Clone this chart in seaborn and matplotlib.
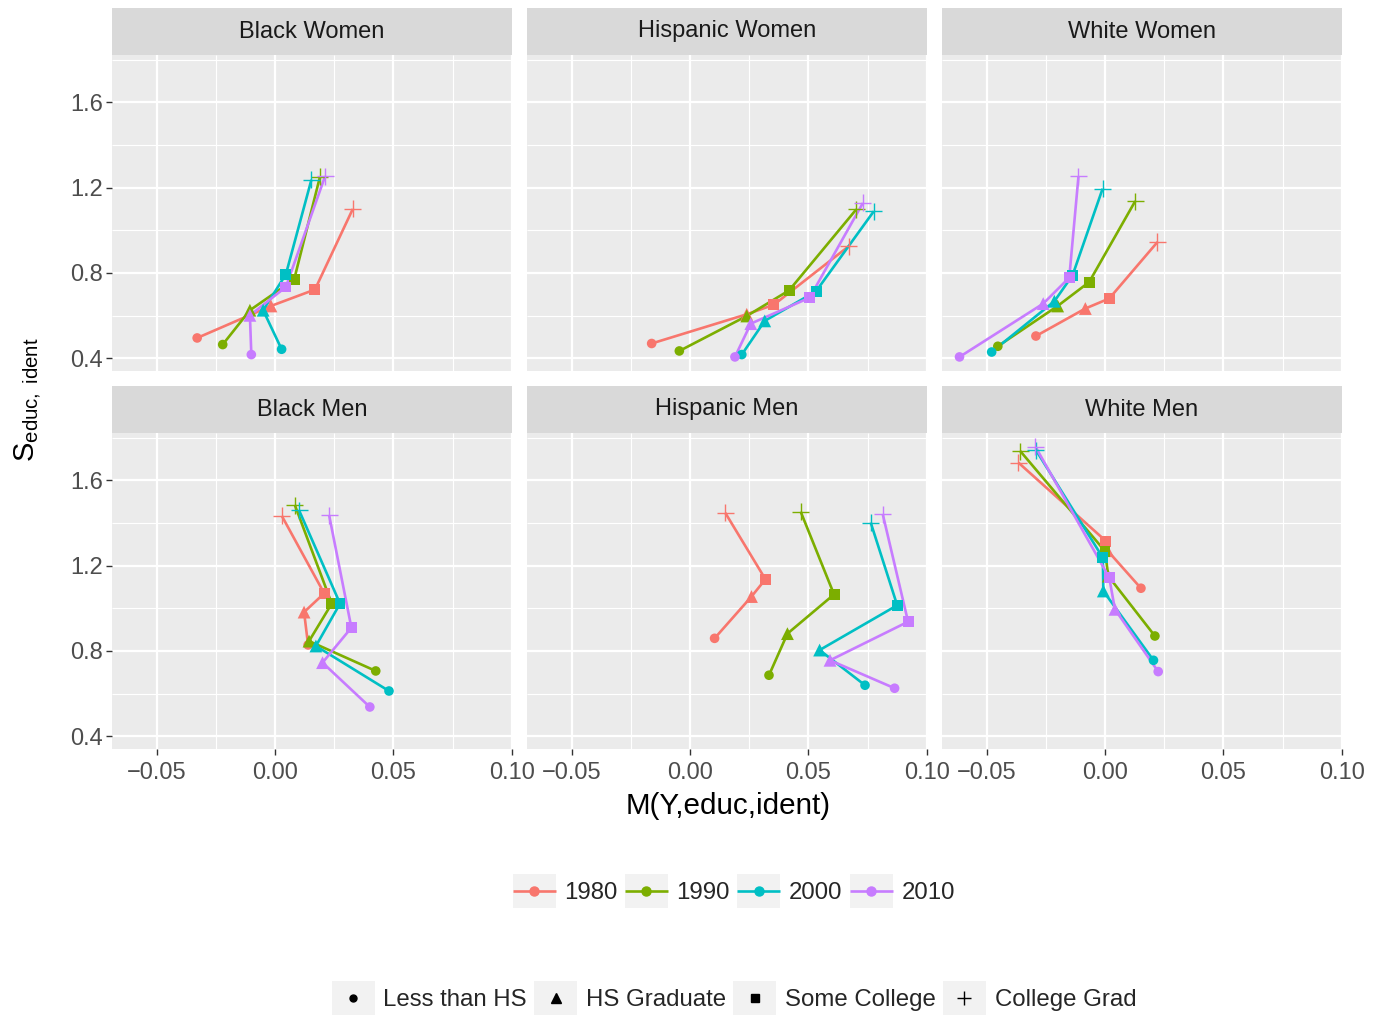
import matplotlib
matplotlib.use("Agg")
import matplotlib.pyplot as plt
import numpy as np
import pandas as pd
import seaborn as sns
from matplotlib.patches import Rectangle, Patch
from matplotlib.lines import Line2D
from matplotlib.legend_handler import HandlerTuple, HandlerLine2D
from matplotlib.ticker import FixedLocator, FixedFormatter

# ---------------- data ----------------
years = ["1980", "1990", "2000", "2010"]
educ = ["Less than HS", "HS Graduate", "Some College", "College Grad"]
panels = ["Black Women", "Hispanic Women", "White Women",
          "Black Men", "Hispanic Men", "White Men"]
year_colors = ["#F8766D", "#7CAE00", "#00BFC4", "#C77CFF"]

# rows = years (1980, 1990, 2000, 2010); columns = educ levels
black_women_x = [[-0.0330, -0.0018, 0.0168, 0.0328],
                 [-0.0222, -0.0107, 0.0080, 0.0189],
                 [0.0027, -0.0051, 0.0045, 0.0153],
                 [-0.0101, -0.0107, 0.0045, 0.0211]]
black_women_y = [[0.495, 0.645, 0.722, 1.100],
                 [0.464, 0.625, 0.769, 1.250],
                 [0.442, 0.625, 0.793, 1.237],
                 [0.417, 0.601, 0.734, 1.254]]

hispanic_women_x = [[-0.0163, 0.0239, 0.0354, 0.0671],
                    [-0.0046, 0.0239, 0.0418, 0.0702],
                    [0.0218, 0.0315, 0.0532, 0.0776],
                    [0.0189, 0.0256, 0.0505, 0.0730]]
hispanic_women_y = [[0.469, 0.606, 0.651, 0.926],
                    [0.434, 0.598, 0.718, 1.098],
                    [0.417, 0.575, 0.714, 1.089],
                    [0.406, 0.562, 0.684, 1.128]]

white_women_x = [[-0.0293, -0.0084, 0.0017, 0.0221],
                 [-0.0454, -0.0201, -0.0068, 0.0127],
                 [-0.0480, -0.0215, -0.0138, -0.0011],
                 [-0.0616, -0.0262, -0.0152, -0.0113]]
white_women_y = [[0.504, 0.633, 0.680, 0.945],
                 [0.456, 0.645, 0.757, 1.137],
                 [0.429, 0.667, 0.789, 1.195],
                 [0.406, 0.656, 0.778, 1.253]]

black_men_x = [[0.0139, 0.0122, 0.0207, 0.0028],
               [0.0425, 0.0143, 0.0239, 0.0083],
               [0.0481, 0.0172, 0.0274, 0.0101],
               [0.0400, 0.0200, 0.0322, 0.0228]]
black_men_y = [[0.828, 0.982, 1.070, 1.433],
               [0.706, 0.846, 1.022, 1.484],
               [0.612, 0.823, 1.022, 1.459],
               [0.537, 0.745, 0.909, 1.436]]

hispanic_men_x = [[0.0103, 0.0259, 0.0318, 0.0148],
                  [0.0333, 0.0411, 0.0608, 0.0467],
                  [0.0739, 0.0547, 0.0875, 0.0763],
                  [0.0864, 0.0591, 0.0921, 0.0814]]
hispanic_men_y = [[0.859, 1.055, 1.136, 1.448],
                  [0.686, 0.881, 1.065, 1.453],
                  [0.639, 0.804, 1.014, 1.402],
                  [0.625, 0.756, 0.937, 1.441]]

white_men_x = [[0.0151, 0.0010, 0.0003, -0.0367],
               [0.0210, 0.0013, -0.0001, -0.0359],
               [0.0204, -0.0008, -0.0010, -0.0293],
               [0.0224, 0.0041, 0.0017, -0.0295]]
white_men_y = [[1.094, 1.270, 1.315, 1.683],
               [0.870, 1.151, 1.268, 1.737],
               [0.756, 1.081, 1.237, 1.742],
               [0.703, 0.995, 1.144, 1.758]]

x_ticks = [-0.05, 0.00, 0.05, 0.10]
x_tick_labels = ["\u22120.05", "0.00", "0.05", "0.10"]
y_ticks = [0.4, 0.8, 1.2, 1.6]
y_tick_labels = ["0.4", "0.8", "1.2", "1.6"]

panel_x = [black_women_x, hispanic_women_x, white_women_x,
           black_men_x, hispanic_men_x, white_men_x]
panel_y = [black_women_y, hispanic_women_y, white_women_y,
           black_men_y, hispanic_men_y, white_men_y]

rows = []
for p, xs, ys in zip(panels, panel_x, panel_y):
    for yi, yr in enumerate(years):
        for ei, ed in enumerate(educ):
            rows.append(dict(panel=p, year=yr, educ=ed, M=xs[yi][ei], S=ys[yi][ei]))
df = pd.DataFrame(rows)

# ---------------- style ----------------
sns.set_theme(style="darkgrid")
plt.rcParams["font.family"] = ["Liberation Sans", "DejaVu Sans"]
plt.rcParams["mathtext.fontset"] = "custom"
plt.rcParams["mathtext.rm"] = "Liberation Sans"
plt.rcParams["mathtext.it"] = "Liberation Sans:italic"
plt.rcParams["mathtext.bf"] = "Liberation Sans:bold"
plt.rcParams["lines.solid_capstyle"] = "butt"
plt.rcParams["lines.solid_joinstyle"] = "round"

W, H = 1380, 1015
fig = plt.figure(figsize=(W / 100, H / 100), dpi=100)
fig.patch.set_facecolor("white")

col_left = [112, 527, 942]
row_top = [55, 433]
pw, ph = 400, 316
strip_h = 47
xlim = (-0.0690, 0.1001)
ylim = (0.340, 1.822)

TXT = 17.0
filled_markers = {"Less than HS": "o", "HS Graduate": "^", "Some College": "s"}
filled_sizes = {"Less than HS": 48, "HS Graduate": 85, "Some College": 62}

for i, p in enumerate(panels):
    r, c = divmod(i, 3)
    ax = fig.add_axes([col_left[c] / W, 1 - (row_top[r] + ph) / H, pw / W, ph / H])
    ax.set_facecolor("#EBEBEB")
    for s in ax.spines.values():
        s.set_visible(False)
    ax.set_axisbelow(True)
    sub = df[df.panel == p]

    sns.lineplot(data=sub, x="M", y="S", hue="year", hue_order=years,
                 palette=year_colors, sort=False, estimator=None,
                 legend=False, lw=1.9, ax=ax, zorder=2)
    sub_f = sub[sub.educ != "College Grad"]
    sns.scatterplot(data=sub_f, x="M", y="S", hue="year", hue_order=years,
                    palette=year_colors, style="educ", style_order=educ[:3],
                    markers=filled_markers, size="educ", sizes=filled_sizes,
                    linewidth=0, legend=False, ax=ax, zorder=3)
    sub_p = sub[sub.educ == "College Grad"]
    sns.scatterplot(data=sub_p, x="M", y="S", hue="year", hue_order=years,
                    palette=year_colors, marker="+", s=150, linewidth=1.0,
                    legend=False, ax=ax, zorder=3)

    ax.set_xlim(*xlim)
    ax.set_ylim(*ylim)
    ax.xaxis.set_major_locator(FixedLocator(x_ticks))
    ax.xaxis.set_major_formatter(FixedFormatter(x_tick_labels))
    ax.xaxis.set_minor_locator(FixedLocator([-0.025, 0.025, 0.075]))
    ax.yaxis.set_major_locator(FixedLocator(y_ticks))
    ax.yaxis.set_major_formatter(FixedFormatter(y_tick_labels))
    ax.yaxis.set_minor_locator(FixedLocator([0.6, 1.0, 1.4, 1.8]))
    ax.grid(which="major", color="white", lw=1.6)
    ax.grid(which="minor", color="white", lw=0.8)
    ax.set_xlabel("")
    ax.set_ylabel("")
    ax.tick_params(which="minor", length=0)
    ax.tick_params(axis="both", which="major", length=4, width=1.0,
                   color="#333333", labelsize=TXT, labelcolor="#4D4D4D")
    ax.tick_params(axis="y", pad=2.5)
    ax.tick_params(axis="x", pad=5.5)
    if c != 0:
        ax.tick_params(axis="y", left=False, labelleft=False)
    else:
        ax.tick_params(axis="y", left=True, labelleft=True)
    if r != 1:
        ax.tick_params(axis="x", bottom=False, labelbottom=False)
    else:
        ax.tick_params(axis="x", bottom=True, labelbottom=True)

    ax.add_patch(Rectangle((0, 1), 1, strip_h / ph, transform=ax.transAxes,
                           facecolor="#D9D9D9", edgecolor="none", clip_on=False))
    ax.text(0.5, 1 + strip_h / ph / 2, p, transform=ax.transAxes,
            ha="center", va="center", fontsize=TXT, color="#1A1A1A")

# axis titles
fig.text(728 / W, 1 - 806 / H, "M(Y,educ,ident)", ha="center", va="center",
         fontsize=21.3, color="black")
fig.text(28 / W, 1 - 400 / H, r"$\mathrm{S}_{\mathrm{educ,\ ident}}$",
         rotation=90, ha="center", va="center", fontsize=21, color="black")


# legends: key glyph centred inside the grey key box
class CenteredLine(HandlerLine2D):
    def create_artists(self, legend, orig_handle, xdescent, ydescent,
                       width, height, fontsize, trans):
        return super().create_artists(legend, orig_handle, xdescent, ydescent,
                                      width, height - ydescent, fontsize, trans)


key_bg = "#F2F2F2"
LEG = 17.3
h1 = [(Patch(facecolor=key_bg, edgecolor="none"),
       Line2D([0], [0], color=col, lw=1.9, marker="o", markersize=6.5))
      for col in year_colors]
leg_kw = dict(loc="center", ncol=4, frameon=False, fontsize=LEG,
              handlelength=1.79, handleheight=1.79, handletextpad=0.36,
              columnspacing=0.3, borderpad=0, borderaxespad=0,
              handler_map={tuple: HandlerTuple(ndivide=1),
                           Line2D: CenteredLine()})
fig.legend(h1, years, bbox_to_anchor=(733.7 / W, 1 - 891 / H), **leg_kw)

shape_spec = [("o", 5.0, 0), ("^", 6.5, 0), ("s", 5.5, 0), ("+", 10, 1.0)]
h2 = []
for m, ms, mew in shape_spec:
    kw = dict(linestyle="none", marker=m, color="black", markersize=ms)
    if mew:
        kw["markeredgewidth"] = mew
    h2.append((Patch(facecolor=key_bg, edgecolor="none"), Line2D([0], [0], **kw)))
fig.legend(h2, educ, bbox_to_anchor=(734 / W, 1 - 998 / H), **leg_kw)

fig.savefig("out.png", dpi=100, facecolor="white")
